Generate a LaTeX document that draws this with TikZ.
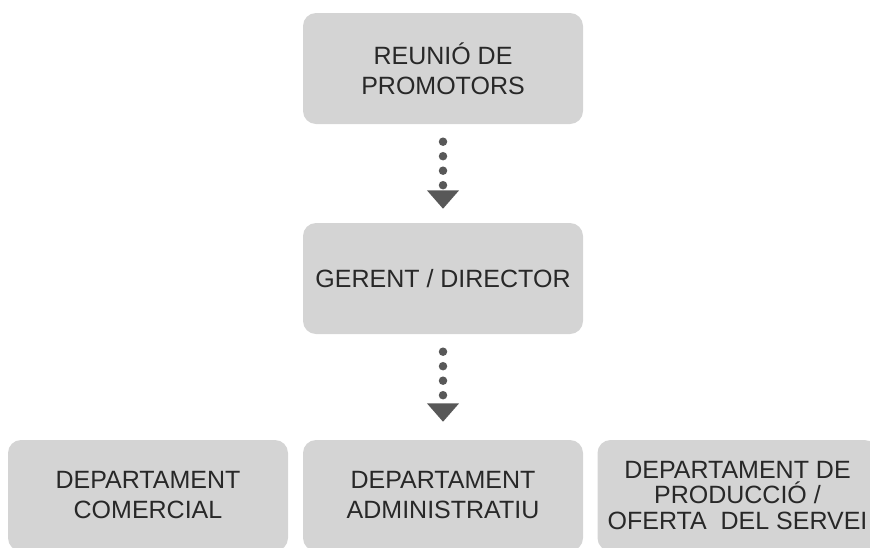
\documentclass[tikz,border=0pt]{standalone}
\usepackage{fontspec}
\setmainfont{Liberation Sans}
\usetikzlibrary{arrows.meta}
\definecolor{boxgray}{RGB}{212,212,212}
\definecolor{textgray}{RGB}{40,40,40}
\definecolor{dotgray}{RGB}{88,88,88}
\tikzset{
  organ/.style={fill=boxgray, rounded corners=13pt, minimum width=280pt, minimum height=111pt,
    inner sep=0pt, align=center, text=textgray, font=\fontsize{25}{30}\selectfont},
  dotlink/.style={dotgray, line width=8.5pt, line cap=round, dash pattern=on 0pt off 14.5pt,
    -{Triangle[width=31pt,length=18.5pt]}, shorten <=17.5pt, shorten >=14pt}
}
\begin{document}
\begin{tikzpicture}[x=1pt,y=-1pt]
\def \Mid {443}
\def \Low {495.5}

\useasboundingbox (0,0) rectangle (870,547);
\clip (0,0) rectangle (870,547);

%la direcció
\node[organ] (promotors) at (\Mid,68.5) {REUNIÓ DE\\PROMOTORS};
\node[organ] (gerent) at (\Mid,278.5) {GERENT / DIRECTOR};

%els departaments
\node[organ] (comercial) at (148,\Low) {DEPARTAMENT\\COMERCIAL};
\node[organ] (administratiu) at (\Mid,\Low) {DEPARTAMENT\\ADMINISTRATIU};
\node[organ, font=\fontsize{25}{25.5}\selectfont] (produccio) at (737.5,\Low) {DEPARTAMENT DE\\PRODUCCIÓ /\\OFERTA\ \ DEL SERVEI};

%les fletxes
\draw[dotlink] (promotors.south) -- (gerent.north);
\draw[dotlink, shorten >=18pt] (gerent.south) -- (administratiu.north);

\end{tikzpicture}
\end{document}
